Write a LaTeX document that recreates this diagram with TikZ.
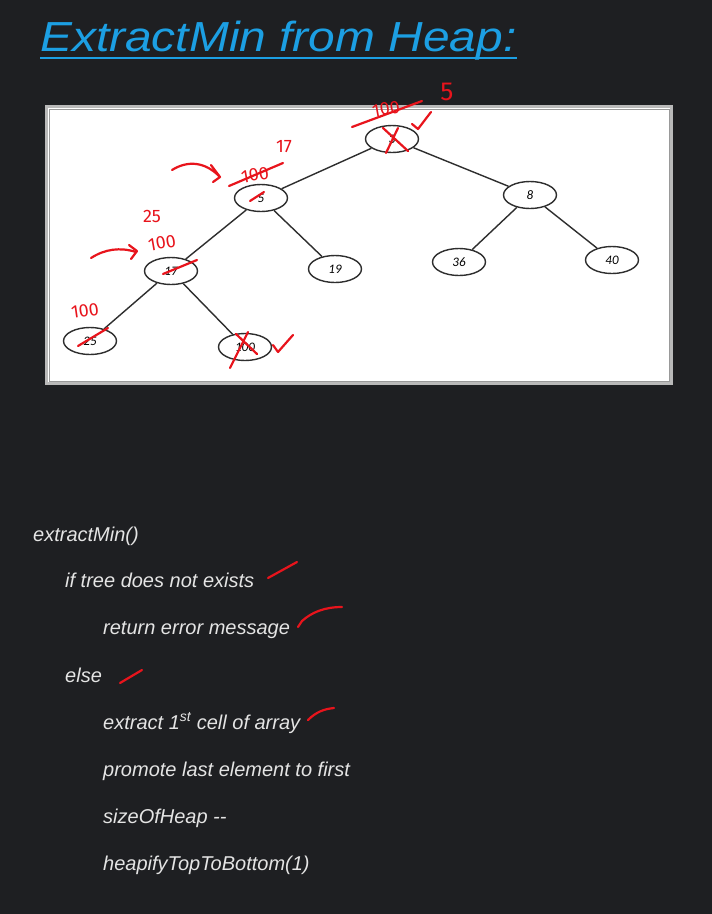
\documentclass[tikz,border=0pt]{standalone}
\usepackage{fontspec}
\setmainfont{Liberation Sans}
\newfontfamily\nodefont{Carlito}
\newfontfamily\handfont{Fira Sans}
\usetikzlibrary{shapes.geometric,arrows.meta}
\definecolor{bgdark}{HTML}{1E1F22}
\definecolor{titleblue}{HTML}{1C9FE3}
\definecolor{codewhite}{HTML}{E4E4E4}
\definecolor{ink}{HTML}{E8141C}
\definecolor{edgegray}{HTML}{2E2E2E}
\tikzset{
  heapnode/.style={draw=edgegray, ellipse, line width=1.4pt, minimum width=53pt, minimum height=27pt, inner sep=0pt, font=\nodefont\itshape\fontsize{13}{13}\selectfont, text=black},
  edge/.style={draw=edgegray, line width=1.4pt},
  codeline/.style={anchor=base west, inner sep=0pt, text=codewhite, font=\itshape\fontsize{20}{20}\selectfont},
  redink/.style={draw=ink, line width=2.2pt, line cap=round, line join=round},
  redtext/.style={text=ink, inner sep=0pt, font=\handfont\fontsize{18}{18}\selectfont},
}
\begin{document}
\begin{tikzpicture}[x=1pt,y=-1pt]
\fill[bgdark] (0,0) rectangle (712,914);
\useasboundingbox (0,0) rectangle (712,914);

% title
\node[anchor=base west, inner sep=0pt, text=titleblue, font=\itshape\fontsize{42}{42}\selectfont] (title) at (40,51) {\scalebox{1.14}[1]{ExtractMin from Heap:}};
\draw[titleblue, line width=2pt] (40,57.5) -- (517,57.5);

% picture frame
\fill[white] (45,105) rectangle (673,385);
\draw[gray!55, line width=2.2pt] (46.5,106.5) rectangle (671.5,383.5);
\draw[gray!80, line width=0.6pt] (49,109) rectangle (669,381);

% heap nodes
\node[heapnode] (r) at (392,139) {3};
\node[heapnode] (a) at (261,198) {5};
\node[heapnode] (b) at (530,195) {8};
\node[heapnode] (c) at (171,271) {17};
\node[heapnode] (d) at (335,269) {19};
\node[heapnode] (e) at (459,262) {36};
\node[heapnode] (f) at (612,260) {40};
\node[heapnode] (g) at (90,341) {25};
\node[heapnode] (h) at (245,347) {100};

\draw[edge] (r) -- (a);
\draw[edge] (r) -- (b);
\draw[edge] (a) -- (c);
\draw[edge] (a) -- (d);
\draw[edge] (b) -- (e);
\draw[edge] (b) -- (f);
\draw[edge] (c) -- (g);
\draw[edge] (c) -- (h);

% red annotations: root
\node[redtext, rotate=10] (r100) at (386,109) {100};
\draw[redink] (352,127) -- (422,101);
\node[redtext, font=\handfont\fontsize{26}{26}\selectfont] (r5) at (447,92) {5};
\draw[redink] (412,124) -- (418,129) -- (431,112);
\draw[redink] (383,128) -- (408,151);
\draw[redink] (398,128) -- (386,153);

% node 5
\draw[redink] (172,170) .. controls (188,160) and (205,162) .. (219,176);
\draw[redink] (211,165) -- (220,177) -- (213,182);
\node[redtext, rotate=10] (a100) at (255,175) {100};
\draw[redink] (229,186) -- (283,163);
\node[redtext] (a17) at (284,147) {17};
\draw[redink] (250,201) -- (264,192);

% node 17
\node[redtext] (c25) at (152,216) {25};
\node[redtext, rotate=10] (c100) at (162,243) {100};
\draw[redink] (91,258) .. controls (105,249) and (120,247) .. (136,252);
\draw[redink] (129,245) -- (137,251) -- (131,259);
\draw[redink] (163,274) -- (197,260);

% node 25
\node[redtext, rotate=8] (g100) at (85,311) {100};
\draw[redink] (78,346) -- (108,328);

% leaf 100
\draw[redink] (230,368) -- (248,332);
\draw[redink] (236,334) -- (257,354);
\draw[redink] (273,345) -- (278,352) -- (293,335);

% code
\node[codeline] (l1) at (33,541) {extractMin()};
\node[codeline] (l2) at (65,587) {if tree does not exists};
\node[codeline] (l3) at (103,634) {return error message};
\node[codeline] (l4) at (65,682) {else};
\node[codeline] (l5) at (103,729) {extract 1\textsuperscript{st} cell of array};
\node[codeline] (l6) at (103,776) {promote last element to first};
\node[codeline] (l7) at (103,823) {sizeOfHeap -{}-};
\node[codeline] (l8) at (103,870) {heapifyTopToBottom(1)};

% ticks
\draw[redink] (268,578) -- (297,562);
\draw[redink] (298,627) -- (302,621) .. controls (312,612) and (325,607) .. (342,607);
\draw[redink] (120,683) -- (142,670);
\draw[redink] (308,720) .. controls (316,712) and (324,709) .. (334,708);
\end{tikzpicture}
\end{document}
